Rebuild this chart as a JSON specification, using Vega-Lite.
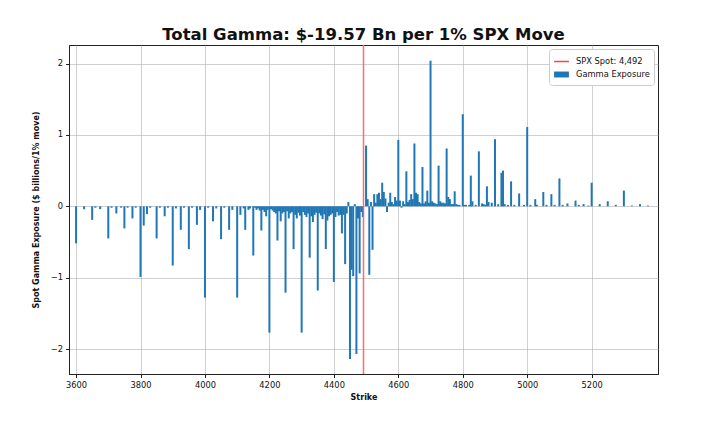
{
  "$schema": "https://vega.github.io/schema/vega-lite/v6.json",
  "autosize": "none",
  "width": 589,
  "height": 329,
  "padding": {"left": 69, "top": 45, "right": 51, "bottom": 57},
  "config": {
    "font": "DejaVu Sans",
    "view": {"stroke": "#222", "strokeWidth": 1},
    "axis": {
      "zindex": 1,
      "grid": true,
      "gridColor": "#b0b0b0",
      "gridOpacity": 0.6,
      "gridWidth": 1,
      "domainColor": "#222",
      "tickColor": "#222",
      "tickSize": 3.5,
      "labelColor": "#111",
      "labelFontSize": 8.3,
      "titleFontSize": 8,
      "titleFontWeight": "bold",
      "titleColor": "#111"
    }
  },
  "title": {
    "text": "Total Gamma: $-19.57 Bn per 1% SPX Move",
    "fontSize": 16.5,
    "fontWeight": "bold",
    "color": "#111",
    "anchor": "middle",
    "offset": 1
  },
  "data": {
    "values": [
      {"strike": 3600, "gamma": -0.52}, {"strike": 3625, "gamma": -0.04}, {"strike": 3650, "gamma": -0.19},
      {"strike": 3660, "gamma": -0.02}, {"strike": 3675, "gamma": -0.04}, {"strike": 3700, "gamma": -0.45},
      {"strike": 3710, "gamma": -0.02}, {"strike": 3725, "gamma": -0.10}, {"strike": 3740, "gamma": -0.02},
      {"strike": 3750, "gamma": -0.31}, {"strike": 3760, "gamma": -0.02}, {"strike": 3775, "gamma": -0.17},
      {"strike": 3785, "gamma": -0.02}, {"strike": 3800, "gamma": -0.99}, {"strike": 3810, "gamma": -0.27},
      {"strike": 3820, "gamma": -0.11}, {"strike": 3830, "gamma": -0.02}, {"strike": 3850, "gamma": -0.45},
      {"strike": 3860, "gamma": -0.02}, {"strike": 3875, "gamma": -0.14}, {"strike": 3885, "gamma": -0.02},
      {"strike": 3900, "gamma": -0.83}, {"strike": 3910, "gamma": -0.03}, {"strike": 3925, "gamma": -0.33},
      {"strike": 3935, "gamma": -0.02}, {"strike": 3950, "gamma": -0.60}, {"strike": 3960, "gamma": -0.02},
      {"strike": 3975, "gamma": -0.26}, {"strike": 3985, "gamma": -0.05}, {"strike": 4000, "gamma": -1.28},
      {"strike": 4010, "gamma": -0.02}, {"strike": 4025, "gamma": -0.21}, {"strike": 4035, "gamma": -0.03},
      {"strike": 4050, "gamma": -0.46}, {"strike": 4060, "gamma": -0.02}, {"strike": 4075, "gamma": -0.33},
      {"strike": 4085, "gamma": -0.05}, {"strike": 4100, "gamma": -1.28}, {"strike": 4110, "gamma": -0.12},
      {"strike": 4120, "gamma": -0.03}, {"strike": 4125, "gamma": -0.33}, {"strike": 4135, "gamma": -0.05},
      {"strike": 4140, "gamma": -0.03}, {"strike": 4150, "gamma": -0.69}, {"strike": 4155, "gamma": -0.02},
      {"strike": 4160, "gamma": -0.05}, {"strike": 4165, "gamma": -0.03}, {"strike": 4170, "gamma": -0.06},
      {"strike": 4175, "gamma": -0.34}, {"strike": 4180, "gamma": -0.05}, {"strike": 4185, "gamma": -0.08},
      {"strike": 4190, "gamma": -0.14}, {"strike": 4195, "gamma": -0.05}, {"strike": 4200, "gamma": -1.77},
      {"strike": 4205, "gamma": -0.04}, {"strike": 4210, "gamma": -0.06}, {"strike": 4215, "gamma": -0.08},
      {"strike": 4220, "gamma": -0.10}, {"strike": 4225, "gamma": -0.48}, {"strike": 4230, "gamma": -0.07},
      {"strike": 4235, "gamma": -0.21}, {"strike": 4240, "gamma": -0.10}, {"strike": 4245, "gamma": -0.08},
      {"strike": 4250, "gamma": -1.21}, {"strike": 4255, "gamma": -0.07}, {"strike": 4260, "gamma": -0.17},
      {"strike": 4265, "gamma": -0.10}, {"strike": 4270, "gamma": -0.08}, {"strike": 4275, "gamma": -0.60},
      {"strike": 4280, "gamma": -0.12}, {"strike": 4285, "gamma": -0.17}, {"strike": 4290, "gamma": -0.09},
      {"strike": 4295, "gamma": -0.13}, {"strike": 4300, "gamma": -1.77}, {"strike": 4305, "gamma": -0.08},
      {"strike": 4310, "gamma": -0.12}, {"strike": 4315, "gamma": -0.15}, {"strike": 4320, "gamma": -0.10},
      {"strike": 4325, "gamma": -0.72}, {"strike": 4330, "gamma": -0.14}, {"strike": 4335, "gamma": -0.22},
      {"strike": 4340, "gamma": -0.12}, {"strike": 4345, "gamma": -0.09}, {"strike": 4350, "gamma": -1.18},
      {"strike": 4355, "gamma": -0.10}, {"strike": 4360, "gamma": -0.13}, {"strike": 4365, "gamma": -0.18},
      {"strike": 4370, "gamma": -0.11}, {"strike": 4375, "gamma": -0.60}, {"strike": 4380, "gamma": -0.20},
      {"strike": 4385, "gamma": -0.14}, {"strike": 4390, "gamma": -0.12}, {"strike": 4395, "gamma": -0.10},
      {"strike": 4400, "gamma": -1.06}, {"strike": 4405, "gamma": -0.15}, {"strike": 4410, "gamma": -0.08},
      {"strike": 4415, "gamma": -0.13}, {"strike": 4420, "gamma": -0.12}, {"strike": 4425, "gamma": -0.38},
      {"strike": 4430, "gamma": -0.12}, {"strike": 4435, "gamma": -0.81}, {"strike": 4440, "gamma": -0.10},
      {"strike": 4445, "gamma": 0.06}, {"strike": 4450, "gamma": -2.14}, {"strike": 4455, "gamma": -0.89},
      {"strike": 4460, "gamma": -0.98}, {"strike": 4465, "gamma": 0.03}, {"strike": 4470, "gamma": -2.07},
      {"strike": 4475, "gamma": -0.17}, {"strike": 4480, "gamma": -0.94}, {"strike": 4485, "gamma": -0.08},
      {"strike": 4490, "gamma": -0.15}, {"strike": 4500, "gamma": 0.85}, {"strike": 4505, "gamma": 0.10},
      {"strike": 4510, "gamma": -0.96}, {"strike": 4515, "gamma": 0.06}, {"strike": 4520, "gamma": -0.61},
      {"strike": 4525, "gamma": 0.17}, {"strike": 4530, "gamma": 0.05}, {"strike": 4535, "gamma": 0.17},
      {"strike": 4540, "gamma": 0.19}, {"strike": 4545, "gamma": 0.10}, {"strike": 4550, "gamma": 0.33},
      {"strike": 4555, "gamma": 0.20}, {"strike": 4560, "gamma": 0.11}, {"strike": 4565, "gamma": -0.08},
      {"strike": 4570, "gamma": 0.05}, {"strike": 4575, "gamma": 0.19}, {"strike": 4580, "gamma": 0.06},
      {"strike": 4585, "gamma": 0.03}, {"strike": 4590, "gamma": 0.13}, {"strike": 4595, "gamma": 0.08},
      {"strike": 4600, "gamma": 0.93}, {"strike": 4605, "gamma": 0.08}, {"strike": 4610, "gamma": -0.02},
      {"strike": 4615, "gamma": 0.07}, {"strike": 4620, "gamma": 0.03}, {"strike": 4625, "gamma": 0.49},
      {"strike": 4630, "gamma": 0.06}, {"strike": 4635, "gamma": 0.09}, {"strike": 4640, "gamma": 0.17},
      {"strike": 4645, "gamma": 0.10}, {"strike": 4650, "gamma": 0.88}, {"strike": 4655, "gamma": 0.19},
      {"strike": 4660, "gamma": 0.17}, {"strike": 4665, "gamma": 0.06}, {"strike": 4670, "gamma": 0.04},
      {"strike": 4675, "gamma": 0.55}, {"strike": 4680, "gamma": 0.04}, {"strike": 4685, "gamma": 0.07},
      {"strike": 4690, "gamma": 0.22}, {"strike": 4695, "gamma": 0.05}, {"strike": 4700, "gamma": 2.04},
      {"strike": 4705, "gamma": 0.07}, {"strike": 4710, "gamma": 0.05}, {"strike": 4715, "gamma": 0.04},
      {"strike": 4720, "gamma": 0.03}, {"strike": 4725, "gamma": 0.57}, {"strike": 4730, "gamma": 0.07},
      {"strike": 4735, "gamma": 0.05}, {"strike": 4740, "gamma": 0.05}, {"strike": 4745, "gamma": 0.04},
      {"strike": 4750, "gamma": 0.81}, {"strike": 4755, "gamma": 0.13}, {"strike": 4760, "gamma": 0.10},
      {"strike": 4765, "gamma": 0.03}, {"strike": 4770, "gamma": 0.03}, {"strike": 4775, "gamma": 0.21},
      {"strike": 4780, "gamma": 0.03}, {"strike": 4785, "gamma": 0.02}, {"strike": 4790, "gamma": 0.02},
      {"strike": 4800, "gamma": 1.29}, {"strike": 4805, "gamma": 0.02}, {"strike": 4810, "gamma": 0.02},
      {"strike": 4820, "gamma": 0.02}, {"strike": 4825, "gamma": 0.43}, {"strike": 4830, "gamma": 0.07},
      {"strike": 4840, "gamma": 0.02}, {"strike": 4850, "gamma": 0.77}, {"strike": 4860, "gamma": 0.04},
      {"strike": 4865, "gamma": 0.03}, {"strike": 4870, "gamma": 0.02}, {"strike": 4875, "gamma": 0.28},
      {"strike": 4880, "gamma": 0.06}, {"strike": 4890, "gamma": 0.05}, {"strike": 4900, "gamma": 0.94},
      {"strike": 4910, "gamma": 0.03}, {"strike": 4920, "gamma": 0.47}, {"strike": 4925, "gamma": 0.50},
      {"strike": 4930, "gamma": 0.03}, {"strike": 4940, "gamma": 0.02}, {"strike": 4950, "gamma": 0.35},
      {"strike": 4960, "gamma": 0.02}, {"strike": 4975, "gamma": 0.18}, {"strike": 4990, "gamma": 0.02},
      {"strike": 5000, "gamma": 1.11}, {"strike": 5010, "gamma": 0.02}, {"strike": 5025, "gamma": 0.10},
      {"strike": 5030, "gamma": 0.02}, {"strike": 5050, "gamma": 0.20}, {"strike": 5060, "gamma": 0.02},
      {"strike": 5075, "gamma": 0.17}, {"strike": 5085, "gamma": 0.02}, {"strike": 5100, "gamma": 0.39},
      {"strike": 5110, "gamma": 0.02}, {"strike": 5125, "gamma": 0.04}, {"strike": 5150, "gamma": 0.08},
      {"strike": 5160, "gamma": 0.02}, {"strike": 5175, "gamma": 0.03}, {"strike": 5190, "gamma": 0.01},
      {"strike": 5200, "gamma": 0.33}, {"strike": 5225, "gamma": 0.03}, {"strike": 5250, "gamma": 0.07},
      {"strike": 5275, "gamma": 0.02}, {"strike": 5300, "gamma": 0.22}, {"strike": 5325, "gamma": 0.01},
      {"strike": 5350, "gamma": 0.03}, {"strike": 5375, "gamma": 0.01}
    ]
  },
  "encoding": {
    "x": {
      "field": "strike",
      "type": "quantitative",
      "scale": {"domain": [3593.6, 5390.4], "nice": false, "zero": false},
      "axis": {"title": "Strike", "format": "d", "values": [3600, 3800, 4000, 4200, 4400, 4600, 4800, 5000, 5200], "labelPadding": 3, "titlePadding": 5}
    }
  },
  "layer": [
    {
      "mark": {"type": "bar", "width": 2},
      "encoding": {
        "y": {
          "field": "gamma",
          "type": "quantitative",
          "scale": {"domain": [-2.35, 2.26], "nice": false},
          "axis": {"title": "Spot Gamma Exposure ($ billions/1% move)", "values": [-2, -1, 0, 1, 2], "labelPadding": 3, "titlePadding": 10}
        },
        "color": {
          "datum": "Gamma Exposure",
          "scale": {"domain": ["SPX Spot: 4,492", "Gamma Exposure"], "range": ["#ff4d4d", "#1f77b4"]},
          "legend": {
            "title": null,
            "orient": "top-right",
            "offset": 4,
            "fillColor": "white",
            "strokeColor": "#cccccc",
            "cornerRadius": 3,
            "padding": 4,
            "labelFontSize": 8.3,
            "labelColor": "#111",
            "symbolSize": 220,
            "rowPadding": 1,
            "labelOffset": 6,
            "encode": {
              "symbols": {
                "update": {
                  "shape": [
                    {"test": "datum.value === 'Gamma Exposure'", "value": "M-1,-0.4L1,-0.4L1,0.4L-1,0.4Z"},
                    {"value": "M-1,0L1,0"}
                  ],
                  "fill": [
                    {"test": "datum.value === 'Gamma Exposure'", "value": "#1f77b4"},
                    {"value": "transparent"}
                  ],
                  "stroke": [
                    {"test": "datum.value === 'Gamma Exposure'", "value": "transparent"},
                    {"value": "#ff4040"}
                  ],
                  "strokeWidth": {"value": 1.5},
                  "opacity": {"value": 1}
                }
              }
            }
          }
        }
      }
    },
    {
      "data": {"values": [{"strike": 4492}]},
      "mark": {"type": "rule", "stroke": "#ff5c5c", "strokeWidth": 1.5, "opacity": 0.9},
      "encoding": {}
    }
  ]
}
